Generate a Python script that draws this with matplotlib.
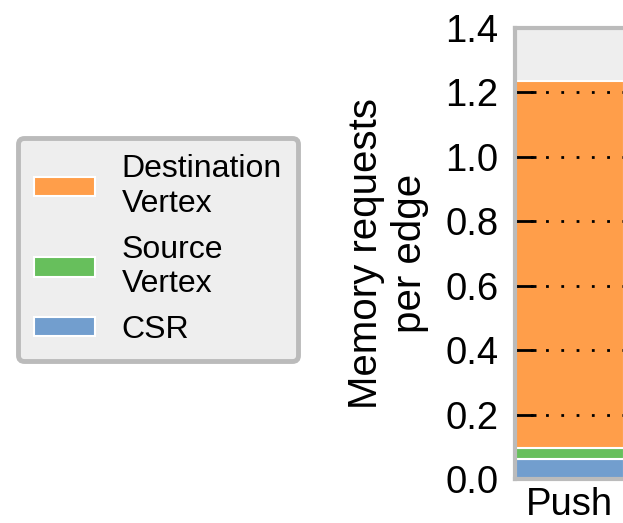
import matplotlib
matplotlib.use("Agg")
import matplotlib.pyplot as plt

categories = ["Push"]
csr = [0.062]
source_vertex = [0.035]
dest_vertex = [1.14]
yticks = [0.0, 0.2, 0.4, 0.6, 0.8, 1.0, 1.2, 1.4]

plt.rcParams['font.family'] = ['Liberation Sans', 'DejaVu Sans']

fig = plt.figure(figsize=(6.23, 5.23), dpi=100)
ax = fig.add_axes([515/623, 1-479/523, 190/623, (479-28)/523])
ax.set_facecolor('#eeeeee')

x = list(range(len(categories)))
w = 0.8
b1 = ax.bar(x, csr, w, color='#729ece', edgecolor='white', linewidth=1.5, label='CSR', zorder=1)
bot2 = csr
b2 = ax.bar(x, source_vertex, w, bottom=bot2, color='#67bf5c', edgecolor='white', linewidth=1.5, label='Source\nVertex', zorder=1)
bot3 = [a + b for a, b in zip(csr, source_vertex)]
b3 = ax.bar(x, dest_vertex, w, bottom=bot3, color='#ff9e4a', edgecolor='white', linewidth=1.5, label='Destination\nVertex', zorder=1)

ax.set_xlim(-0.4, 1.0)
ax.set_ylim(0, 1.4)
ax.set_yticks(yticks)
ax.set_yticklabels([f"{v:.1f}" for v in yticks])
ax.set_xticks(x)
ax.set_xticklabels(categories)
ax.tick_params(axis='both', labelsize=27.5)
ax.tick_params(axis='y', direction='in', length=15, width=2, color='black', pad=12)
ax.tick_params(axis='x', length=0, pad=6)
ax.yaxis.grid(True, color='black', linestyle=(0, (1, 4.5)), linewidth=2)
ax.yaxis.set_zorder(2)
for s in ax.spines.values():
    s.set_color('#bbbbbb')
    s.set_linewidth(3)
    s.set_zorder(3)
ax.set_ylabel("Memory requests\nper edge", fontsize=29, labelpad=12)

leg = fig.legend(handles=[b3, b2, b1], labels=['Destination\nVertex', 'Source\nVertex', 'CSR'],
                 loc='upper left', bbox_to_anchor=(18/623, 1-138/523), bbox_transform=fig.transFigure,
                 borderaxespad=0, fontsize=23, handlelength=1.9, handleheight=0.55,
                 handletextpad=0.85, borderpad=0.5, labelspacing=0.5, fancybox=True,
                 frameon=True, framealpha=1)
fr = leg.get_frame()
fr.set_facecolor('#eeeeee')
fr.set_edgecolor('#bbbbbb')
fr.set_linewidth(3.5)

fig.savefig("out.png", dpi=100)
